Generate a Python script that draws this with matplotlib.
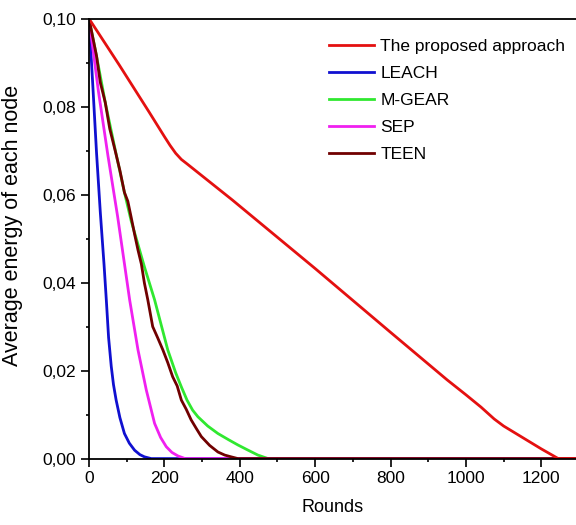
""" average residual energy per node vs. rounds """

import matplotlib
matplotlib.use("Agg")
import matplotlib.pyplot
import matplotlib.ticker

OUTPUT = "out.png"

# values
proposed_rounds = [0, 80, 160, 200, 215, 230, 245, 260, 380, 600, 800, 950, 1000, 1040, 1075, 1100, 1150, 1200, 1245, 1300]
proposed_energy = [0.100, 0.0895, 0.0787, 0.0732, 0.0712, 0.0694, 0.0680, 0.0670, 0.0588, 0.0432, 0.0287, 0.0179, 0.0145, 0.0117, 0.0090, 0.0074, 0.0048, 0.0022, 0.0, 0.0]

leach_rounds = [0, 10, 20, 30, 40, 46, 52, 59, 65, 72, 82, 94, 107, 121, 135, 147, 165, 1300]
leach_energy = [0.100, 0.085, 0.0695, 0.056, 0.044, 0.036, 0.0275, 0.021, 0.0168, 0.0133, 0.0093, 0.0057, 0.0035, 0.0019, 0.0009, 0.0004, 0.0, 0.0]

mgear_rounds = [0, 20, 43, 70, 94, 112, 147, 174, 209, 230, 245, 260, 275, 289, 315, 342, 370, 395, 420, 448, 475, 1300]
mgear_energy = [0.100, 0.0915, 0.081, 0.070, 0.0605, 0.054, 0.0436, 0.0361, 0.0247, 0.0195, 0.0163, 0.0133, 0.0110, 0.0095, 0.0074, 0.0057, 0.0043, 0.0031, 0.0020, 0.0008, 0.0, 0.0]

sep_rounds = [0, 25, 50, 76, 108, 130, 152, 174, 190, 205, 220, 236, 255, 1300]
sep_energy = [0.100, 0.0835, 0.069, 0.055, 0.036, 0.0247, 0.0156, 0.008, 0.0048, 0.0027, 0.0014, 0.0006, 0.0, 0.0]

teen_rounds = [0, 20, 30, 43, 55, 70, 82, 94, 103, 112, 121, 130, 139, 147, 156, 169, 182, 196, 209, 222, 234, 245, 258, 271, 285, 298, 320, 342, 360, 377, 395, 1300]
teen_energy = [0.100, 0.0915, 0.0855, 0.081, 0.075, 0.0698, 0.0655, 0.0605, 0.0585, 0.0548, 0.0510, 0.0474, 0.0442, 0.0399, 0.0361, 0.0300, 0.0275, 0.0247, 0.0218, 0.0186, 0.0165, 0.0133, 0.0112, 0.0088, 0.0068, 0.005, 0.003, 0.0015, 0.0008, 0.0004, 0.0, 0.0]

labels = ["The proposed approach", "LEACH", "M-GEAR", "SEP", "TEEN"]
colors = ["#e41010", "#1010d0", "#30e830", "#f020f0", "#700000"]


def plot_energy():
    matplotlib.pyplot.rcParams["font.family"] = ["Liberation Sans", "DejaVu Sans"]

    fig = matplotlib.pyplot.figure(figsize=(5.76, 5.25), dpi=100)
    ax = fig.add_axes([0.1545, 0.1265, 0.8455, 0.838])

    series = [(proposed_rounds, proposed_energy), (leach_rounds, leach_energy),
              (mgear_rounds, mgear_energy), (sep_rounds, sep_energy),
              (teen_rounds, teen_energy)]
    # draw the proposed approach last so it sits on top, but keep legend order
    order = [1, 2, 3, 4, 0]
    handles = {}
    for i in order:
        x, y = series[i]
        (h,) = ax.plot(x, y, "-", color=colors[i], linewidth=2.0,
                       label=labels[i], solid_joinstyle="round")
        handles[i] = h

    ax.set_xlim([0, 1292])
    ax.set_ylim([0, 0.1])

    ax.xaxis.set_major_locator(matplotlib.ticker.MultipleLocator(200))
    ax.xaxis.set_minor_locator(matplotlib.ticker.MultipleLocator(100))
    ax.yaxis.set_major_locator(matplotlib.ticker.MultipleLocator(0.02))
    ax.yaxis.set_minor_locator(matplotlib.ticker.MultipleLocator(0.01))
    ax.yaxis.set_major_formatter(matplotlib.ticker.FuncFormatter(
        lambda v, pos: "{:.2f}".format(v).replace(".", ",")))

    ax.tick_params(axis="both", which="major", direction="out", length=6,
                   width=1.2, labelsize=12.5, pad=3)
    ax.tick_params(axis="both", which="minor", direction="out", length=2.5, width=1.2)
    ax.tick_params(top=False, right=False, which="both")

    for side in ["left", "bottom", "top"]:
        ax.spines[side].set_linewidth(1.3)
    ax.spines["right"].set_visible(False)

    ax.set_xlabel("Rounds", fontsize=13, labelpad=9)
    ax.set_ylabel("Average energy of each node", fontsize=15.5)
    ax.yaxis.set_label_coords(-0.135, 0.53)

    ax.legend([handles[i] for i in range(5)], labels, loc="upper right",
              bbox_to_anchor=(1.01, 0.99), frameon=False, fontsize=12.5,
              handlelength=2.6, handletextpad=0.35, labelspacing=0.68)

    matplotlib.pyplot.savefig(OUTPUT, dpi=100)
    matplotlib.pyplot.close()


if __name__ == "__main__":
    plot_energy()
